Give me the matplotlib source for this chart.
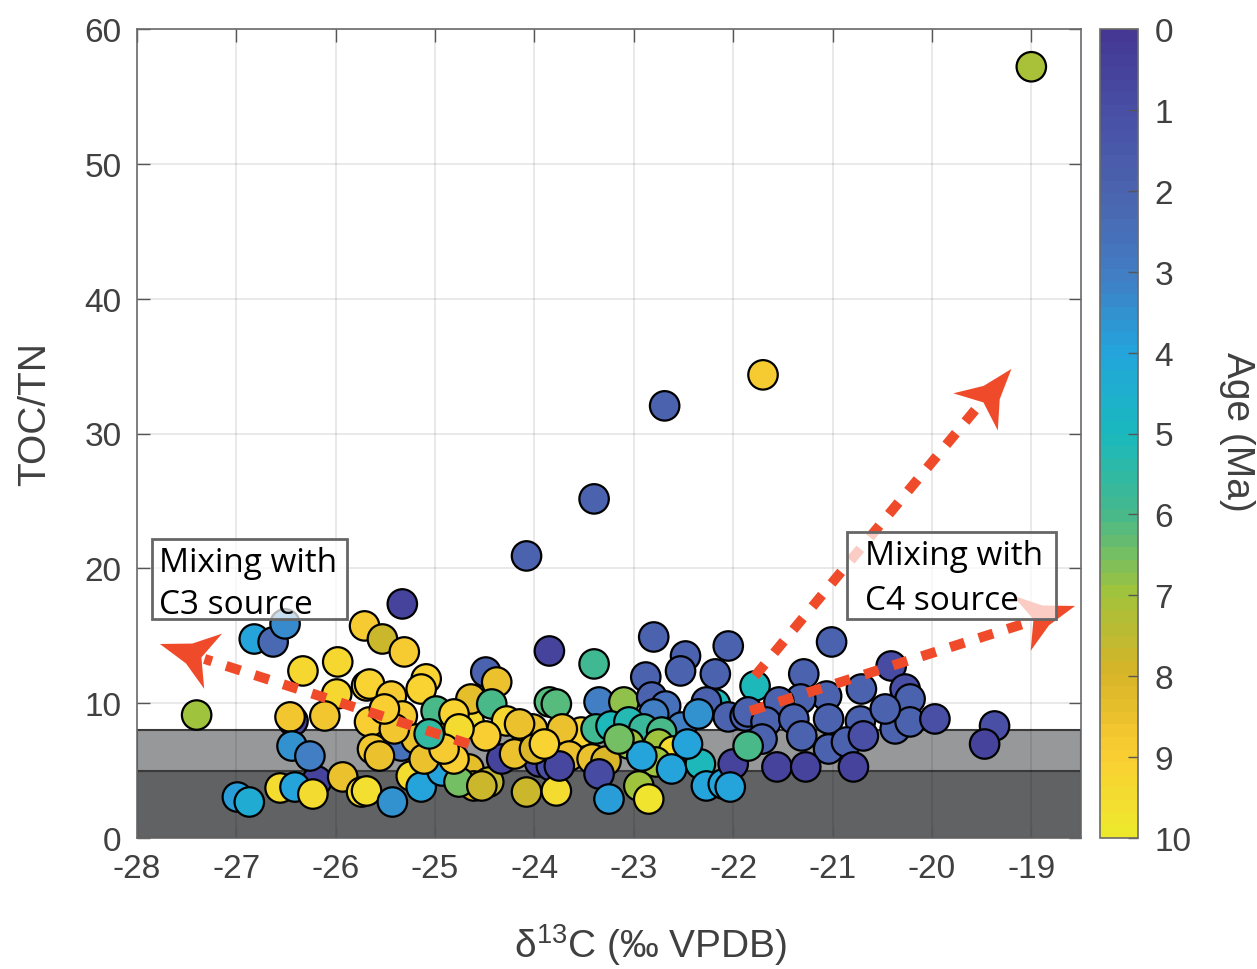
import numpy as np
import matplotlib
matplotlib.use('Agg')
import matplotlib.pyplot as plt
from matplotlib.colors import LinearSegmentedColormap
from matplotlib.patches import Polygon, Rectangle

plt.rcParams['font.family'] = ['Liberation Sans', 'DejaVu Sans']
plt.rcParams['mathtext.fontset'] = 'custom'
plt.rcParams['mathtext.rm'] = 'Liberation Sans'
plt.rcParams['mathtext.it'] = 'Liberation Sans:italic'
plt.rcParams['axes.unicode_minus'] = False

# ---------------- data ----------------
d13c = [-26.43, -26.19, -19.00, -21.70, -22.69, -23.40, -24.08, -25.33, -27.40,
        -26.82, -26.63, -26.51, -26.33, -25.98, -25.99, -25.71, -25.69, -25.53, -25.31,
        -26.46, -26.11, -26.44, -26.26, -26.99, -26.87, -26.56, -26.41, -26.23,
        -25.93, -25.74, -25.66, -25.09, -25.14, -25.44, -25.33, -25.66, -25.63, -25.34,
        -25.19, -25.56, -25.24, -25.14, -25.69, -25.43, -24.96, -24.99, -24.93, -24.86,
        -24.66, -24.64, -24.49, -24.38, -24.43, -24.66, -24.61, -24.76, -24.46, -24.33,
        -24.28, -24.07, -24.49, -24.08, -23.85, -23.85, -23.78, -23.95, -23.83, -23.78,
        -24.02, -23.40, -22.80, -22.48, -22.05, -22.53, -22.88, -22.18, -23.35, -23.10,
        -22.82, -22.68, -22.80, -22.52, -22.18, -22.27, -22.05, -21.88, -23.53, -23.72,
        -23.38, -23.23, -23.05, -22.90, -22.72, -23.05, -22.75, -22.60, -22.78, -23.65,
        -23.42, -23.28, -23.75, -23.35, -23.25, -22.95, -22.85, -22.92, -22.62, -22.33,
        -22.27, -22.10, -22.00, -21.01, -21.29, -20.41, -21.78, -21.06, -20.71, -20.27,
        -20.22, -21.32, -21.54, -21.85, -21.67, -21.39, -21.31, -21.04, -20.72, -21.71,
        -21.85, -21.04, -20.86, -20.69, -20.37, -20.22, -20.47, -19.97, -21.56, -21.27,
        -20.79, -19.37, -19.47, -22.03,
        -24.81, -24.76, -24.15, -24.20, -24.00, -23.90, -24.81, -25.11, -24.91, -25.06,
        -24.53, -25.41, -25.51, -23.15, -22.46, -22.35]
toc_tn = [8.68, 4.23, 57.2, 34.35, 32.05, 25.15, 20.92, 17.36, 9.12,
          14.76, 14.54, 15.88, 12.39, 13.06, 10.68, 15.73, 11.28, 14.76, 13.80,
          8.98, 9.05, 6.82, 6.08, 3.04, 2.67, 3.71, 3.78, 3.26,
          4.53, 3.41, 11.42, 11.80, 11.05, 10.53, 9.05, 8.61, 6.60, 6.82,
          7.34, 6.08, 4.60, 3.78, 3.49, 2.67, 8.23, 9.42, 4.97, 7.57,
          8.68, 10.31, 12.31, 11.57, 9.94, 5.12, 3.86, 4.15, 4.15, 5.86,
          8.68, 7.57, 7.57, 3.41, 13.87, 10.09, 9.94, 5.64, 5.34, 3.49,
          8.09, 12.91, 14.91, 13.50, 14.24, 12.39, 11.94, 12.17, 10.09, 10.09,
          10.46, 9.79, 9.20, 8.23, 9.94, 10.09, 8.98, 9.05, 7.86, 8.09,
          8.09, 8.31, 8.61, 8.09, 7.86, 6.97, 6.97, 6.45, 5.64, 6.08,
          5.86, 5.71, 5.34, 4.75, 2.89, 3.86, 2.89, 6.08, 5.12, 5.49,
          3.86, 4.01, 5.49, 14.54, 12.17, 12.76, 11.28, 10.53, 11.05, 11.05,
          10.31, 10.31, 10.09, 9.35, 8.61, 8.83, 7.57, 8.83, 8.68, 7.34,
          6.82, 6.60, 7.12, 7.57, 8.09, 8.61, 9.57, 8.83, 5.27, 5.27,
          5.27, 8.31, 6.97, 3.78,
          9.20, 8.09, 8.46, 6.23, 6.60, 6.97, 5.86, 5.86, 6.60, 7.72,
          3.86, 8.09, 9.57, 7.34, 6.97, 9.20]
age = [0.5, 0.5, 7.1, 8.9, 2.0, 2.0, 1.9, 0.5, 7.0,
       4.0, 2.2, 3.3, 9.3, 9.3, 9.3, 8.8, 9.2, 7.8, 8.8,
       8.7, 8.6, 3.5, 3.0, 3.8, 4.3, 9.5, 4.0, 9.5,
       8.5, 9.5, 9.2, 9.2, 9.2, 8.8, 8.8, 9.0, 8.6, 2.5,
       8.5, 8.5, 9.5, 4.0, 9.6, 3.5, 2.5, 6.0, 4.0, 8.5,
       9.5, 8.4, 2.0, 8.5, 6.0, 8.3, 8.0, 6.5, 7.5, 0.5,
       9.3, 9.5, 9.0, 7.7, 0.5, 6.2, 6.2, 0.7, 1.0, 9.5,
       8.5, 5.9, 2.0, 2.0, 2.0, 2.0, 2.0, 2.0, 3.0, 6.8,
       2.0, 2.5, 3.0, 3.0, 5.0, 2.0, 2.0, 2.0, 9.2, 8.5,
       5.8, 5.0, 5.2, 5.7, 6.0, 7.0, 7.0, 9.5, 7.0, 8.5,
       8.5, 8.0, 0.7, 0.8, 3.8, 7.0, 9.8, 4.0, 4.0, 5.0,
       4.0, 4.0, 0.6, 2.0, 2.0, 0.8, 5.0, 2.0, 2.0, 1.0,
       2.0, 2.0, 2.0, 2.0, 2.0, 2.0, 2.0, 2.0, 2.0, 2.0,
       6.0, 2.0, 2.0, 1.0, 2.0, 2.0, 2.0, 1.0, 0.6, 0.6,
       0.6, 1.0, 0.5, 4.0,
       9.2, 9.5, 8.5, 8.5, 8.0, 9.2, 9.0, 8.5, 8.8, 5.5,
       7.8, 8.6, 9.0, 6.5, 4.0, 3.5]

x_ticks = [-28, -27, -26, -25, -24, -23, -22, -21, -20, -19]
y_ticks = [0, 10, 20, 30, 40, 50, 60]
cb_ticks = [0, 1, 2, 3, 4, 5, 6, 7, 8, 9, 10]
band_dark = (0, 5)
band_light = (5, 8)

# colormap resembling the reference colorbar (parula-like)
cm_colors = ['#443894', '#4850a5', '#4b64af', '#417dc3', '#23a5dc', '#19b9be',
             '#46b98c', '#a0c33c', '#d7b428', '#facd32', '#eee82d']
cmap = LinearSegmentedColormap.from_list('parula_like', cm_colors, N=64)

# ---------------- figure ----------------
W, H = 1257, 970
fig = plt.figure(figsize=(W / 100, H / 100), dpi=100)
ax = fig.add_axes([137 / W, 1 - 839 / H, (1081 - 137) / W, (839 - 30) / H])
cax = fig.add_axes([1100 / W, 1 - 839 / H, 38 / W, (839 - 30) / H])

ax.set_xlim(-28, -18.5)
ax.set_ylim(0, 60)
ax.set_xticks(x_ticks)
ax.set_yticks(y_ticks)

ax.axhspan(*band_dark, facecolor='#616264', edgecolor='#3a3a3a', lw=1.5, zorder=0.2)
ax.axhspan(*band_light, facecolor='#97989a', edgecolor='#3a3a3a', lw=1.5, zorder=0.2)

ax.set_axisbelow(True)
ax.grid(True, color='k', alpha=0.1, lw=1.2)

tick_col = '#404040'
ax.tick_params(axis='both', which='both', direction='in', length=9, width=1,
               color='#555555', top=True, right=True, labelsize=24,
               labelcolor=tick_col, pad=11)
for s in ax.spines.values():
    s.set_color('#6a6a6a')
    s.set_linewidth(1.2)

sc = ax.scatter(d13c, toc_tn, c=age, cmap=cmap, vmin=0, vmax=10, s=450,
                edgecolors='k', linewidths=1.6, zorder=3)

# ---------------- arrows ----------------
arrow_col = '#ef4b2a'
arrows = [
    ((-24.66, 6.97), (-27.32, 13.28), (-27.77, 14.39)),
    ((-21.78, 12.02), (-19.49, 32.42), (-19.20, 34.79)),
    ((-21.83, 9.42), (-19.08, 15.88), (-18.56, 17.21)),
]
fig.canvas.draw()
for start, end, tip in arrows:
    ax.plot([start[0], end[0]], [start[1], end[1]], color=arrow_col, lw=7.2,
            dashes=(1.5, 1.5), solid_capstyle='butt', dash_capstyle='butt', zorder=4)
    T = ax.transData.transform(tip)
    S = ax.transData.transform(start)
    d = (T - S) / np.linalg.norm(T - S)
    n = np.array([-d[1], d[0]])
    L, Wd = 56, 29
    c1 = T - L * d + Wd * n
    c2 = T - L * d - Wd * n
    notch = T - 0.78 * L * d
    m1 = T - 0.55 * L * d + 0.36 * Wd * n
    m2 = T - 0.55 * L * d - 0.36 * Wd * n
    pts = np.array([T, m1, c1, notch, c2, m2])
    pts_d = ax.transData.inverted().transform(pts)
    ax.add_patch(Polygon(pts_d, closed=True, facecolor=arrow_col, edgecolor='none', zorder=4))

# ---------------- text boxes ----------------
box_font = dict(family=['Open Sans', 'DejaVu Sans'], fontsize=24, color='k', zorder=6)
for (x0, x1, y0, y1) in [(-27.85, -25.89, 16.25, 22.18), (-20.85, -18.75, 16.25, 22.70)]:
    ax.add_patch(Rectangle((x0, y0), x1 - x0, y1 - y0, facecolor=(1, 1, 1, 0.72),
                           edgecolor='#666666', lw=2, zorder=5))
ax.text(-27.78, 19.81, 'Mixing with', va='baseline', ha='left', **box_font)
ax.text(-27.78, 16.69, 'C3 source', va='baseline', ha='left', **box_font)
ax.text(-20.67, 20.33, 'Mixing with', va='baseline', ha='left', **box_font)
ax.text(-20.67, 16.99, 'C4 source', va='baseline', ha='left', **box_font)

# ---------------- labels ----------------
fig.text(35 / W, 1 - 414 / H, 'TOC/TN', rotation=90, ha='center', va='center',
         fontsize=28, color=tick_col)
fig.text(651 / W, 1 - 945 / H, r'δ$^{13}$C (‰ VPDB)', ha='center', va='center',
         fontsize=28, color=tick_col)

# ---------------- colorbar ----------------
cb = fig.colorbar(sc, cax=cax, ticks=cb_ticks)
cax.invert_yaxis()
cax.tick_params(direction='in', length=7, width=1, color='#555555', labelsize=24,
                labelcolor=tick_col, pad=12)
cb.outline.set_edgecolor('#6a6a6a')
cb.outline.set_linewidth(1.2)
fig.text(1237 / W, 1 - 432 / H, 'Age (Ma)', rotation=270, ha='center', va='center',
         fontsize=28, color=tick_col)

fig.savefig('out.png', dpi=100)
